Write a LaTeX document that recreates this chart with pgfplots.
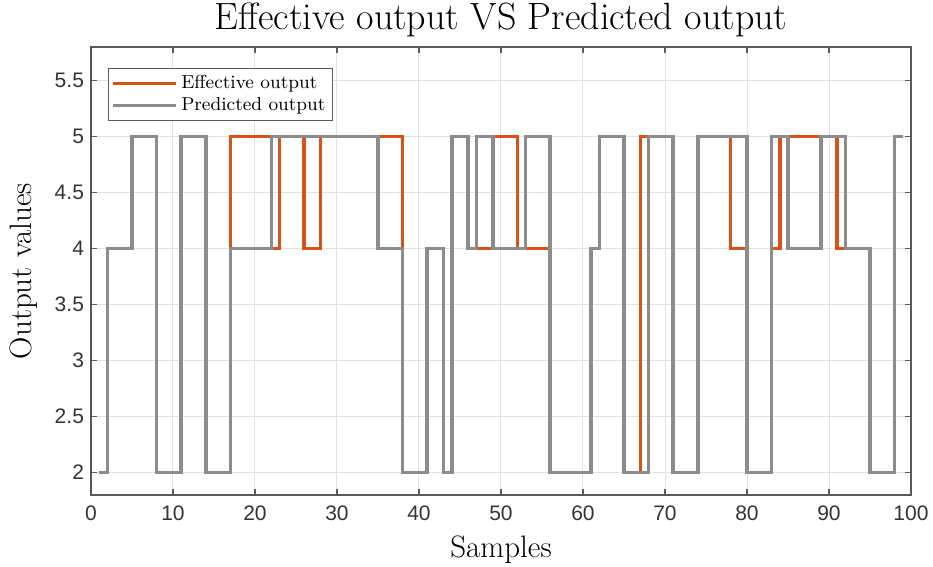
\documentclass[border=0pt]{standalone}
\usepackage{fontspec}
\usepackage{pgfplots}
\pgfplotsset{compat=1.18}
\newfontfamily\tickfont{Liberation Sans}
\definecolor{effc}{RGB}{217,83,25}
\definecolor{predc}{RGB}{140,140,140}
\definecolor{axc}{RGB}{90,90,90}
\definecolor{gridc}{RGB}{226,226,226}
\begin{document}
\begin{tikzpicture}
\begin{axis}[
  scale only axis,
  width=410pt, height=224pt,
  xmin=0, xmax=100, ymin=1.8, ymax=5.8,
  xtick={0,10,...,100},
  ytick={2,2.5,3,3.5,4,4.5,5,5.5},
  yticklabels={2,2.5,3,3.5,4,4.5,5,5.5},
  tick align=inside,
  major tick length=3pt,
  grid=major,
  major grid style={gridc, line width=0.5pt},
  axis line style={axc, line width=0.6pt},
  tick style={axc, line width=0.6pt},
  /pgf/number format/assume math mode=true,
  tick label style={font=\tickfont\fontsize{10.5}{12}\selectfont, text=black!80},
  xticklabel style={yshift=-2pt},
  title={Effective output VS Predicted output},
  title style={font=\fontsize{19}{22}\selectfont, anchor=base, yshift=2.5pt},
  xlabel={Samples},
  ylabel={Output values},
  label style={font=\fontsize{15.5}{18}\selectfont},
  xlabel style={at={(axis description cs:0.5,0)}, anchor=base, yshift=-31.5pt},
  ylabel style={at={(axis description cs:0,0.5)}, anchor=base, yshift=29.75pt},
  legend style={at={(rel axis cs:0,1)}, anchor=north west, xshift=8.5pt, yshift=-10.5pt,
    font=\fontsize{9.4}{11}\selectfont, draw=axc, line width=0.5pt, inner sep=1.5pt, row sep=-1pt, fill=white},
  legend cell align=left,
  legend image code/.code={\draw[#1, line width=1.6pt] (0cm,0cm) -- (1.1cm,0cm);},
]
\addplot[const plot mark left, effc, line width=1.8pt] table[x=x,y=y] {
x y
1 2
2 4
3 4
4 4
5 5
6 5
7 5
8 2
9 2
10 2
11 5
12 5
13 5
14 2
15 2
16 2
17 5
18 5
19 5
20 5
21 5
22 4
23 5
24 5
25 5
26 4
27 4
28 5
29 5
30 5
31 5
32 5
33 5
34 5
35 5
36 5
37 5
38 2
39 2
40 2
41 4
42 4
43 2
44 5
45 5
46 4
47 4
48 4
49 5
50 5
51 5
52 4
53 4
54 4
55 4
56 2
57 2
58 2
59 2
60 2
61 4
62 5
63 5
64 5
65 2
66 2
67 5
68 5
69 5
70 5
71 2
72 2
73 2
74 5
75 5
76 5
77 5
78 4
79 4
80 2
81 2
82 2
83 4
84 5
85 5
86 5
87 5
88 5
89 5
90 5
91 4
92 4
93 4
94 4
95 2
96 2
97 2
98 5
99 5
};
\addlegendentry{Effective output}
\addplot[const plot mark left, predc, line width=1.8pt] table[x=x,y=y] {
x y
1 2
2 4
3 4
4 4
5 5
6 5
7 5
8 2
9 2
10 2
11 5
12 5
13 5
14 2
15 2
16 2
17 4
18 4
19 4
20 4
21 4
22 5
23 5
24 5
25 5
26 5
27 5
28 5
29 5
30 5
31 5
32 5
33 5
34 5
35 4
36 4
37 4
38 2
39 2
40 2
41 4
42 4
43 2
44 5
45 5
46 4
47 5
48 5
49 4
50 4
51 4
52 4
53 5
54 5
55 5
56 2
57 2
58 2
59 2
60 2
61 4
62 5
63 5
64 5
65 2
66 2
67 2
68 5
69 5
70 5
71 2
72 2
73 2
74 5
75 5
76 5
77 5
78 5
79 5
80 2
81 2
82 2
83 5
84 5
85 4
86 4
87 4
88 4
89 5
90 5
91 5
92 4
93 4
94 4
95 2
96 2
97 2
98 5
99 5
};
\addlegendentry{Predicted output}
\end{axis}
\pgfresetboundingbox
\path[use as bounding box] (current axis.south west) ++(-45.5pt,-36pt) rectangle ([xshift=11pt,yshift=23.5pt]current axis.north east);
\end{tikzpicture}
\end{document}
